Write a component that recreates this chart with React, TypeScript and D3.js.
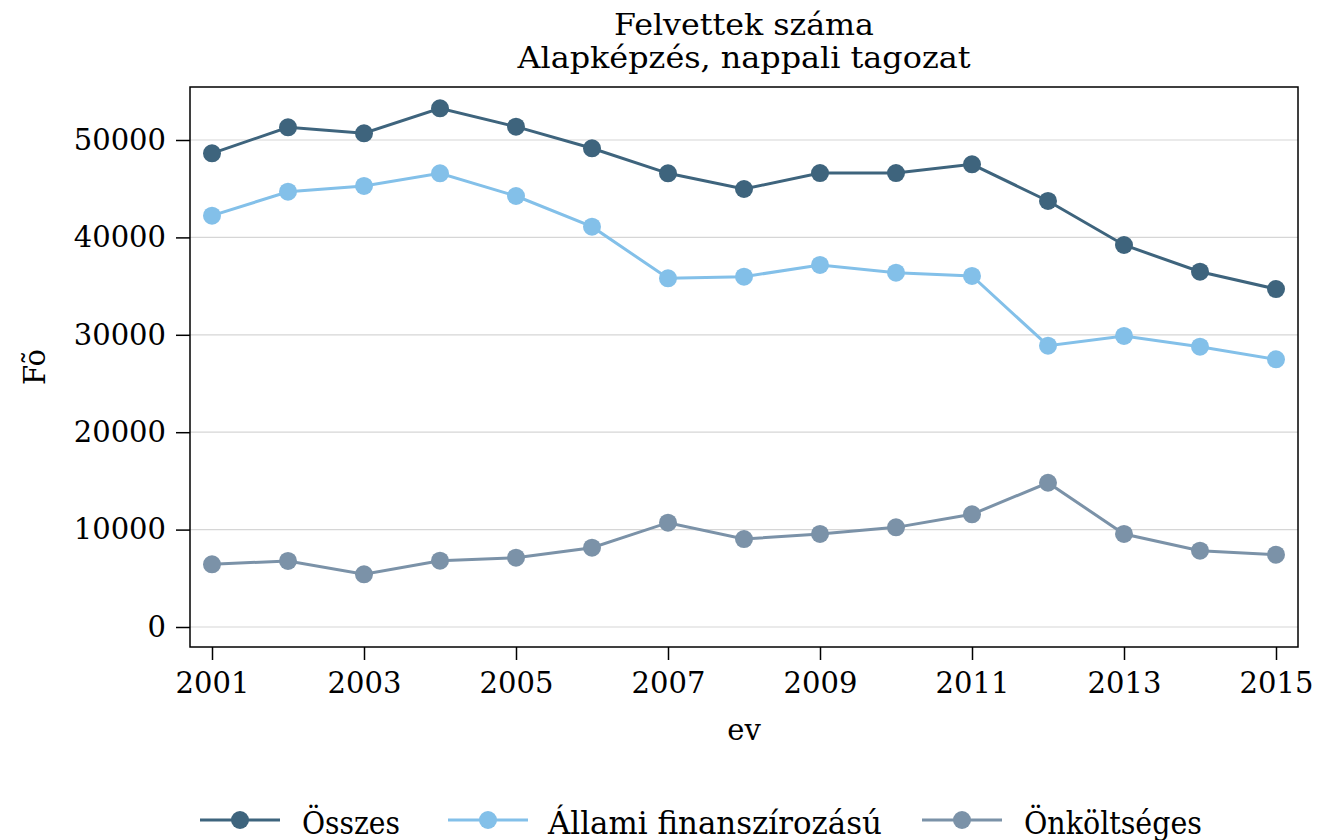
import React, { useEffect, useRef } from "react";
import * as d3 from "d3";

// data
const years = [2001, 2002, 2003, 2004, 2005, 2006, 2007, 2008, 2009, 2010, 2011, 2012, 2013, 2014, 2015];
const osszes = [48630, 51300, 50690, 53250, 51370, 49150, 46580, 44970, 46610, 46610, 47500, 43740, 39220, 36480, 34700];
const allami = [42230, 44690, 45280, 46580, 44250, 41100, 35800, 35970, 37170, 36380, 36040, 28880, 29880, 28780, 27480];
const onkoltseges = [6440, 6780, 5410, 6810, 7120, 8140, 10710, 9030, 9550, 10230, 11570, 14810, 9550, 7830, 7420];
const yTicks = [0, 10000, 20000, 30000, 40000, 50000];
const xTicks = [2001, 2003, 2005, 2007, 2009, 2011, 2013, 2015];
const seriesNames = ["Összes", "Állami finanszírozású", "Önköltséges"];
const seriesColors = ["#3e647d", "#83c0e9", "#7b92a8"];

const W = 1318;
const H = 840;
const SERIF = "'DejaVu Serif', serif";

export default function App() {
  const svgRef = useRef<SVGSVGElement>(null);

  useEffect(() => {
    if (!svgRef.current) return;
    const svg = d3.select(svgRef.current);
    svg.selectAll("*").remove();

    // plot region frame
    const frame = { left: 190, right: 1298, top: 87, bottom: 647 };

    const x = d3.scaleLinear().domain([2001, 2015]).range([212, 1276]);
    const y = d3.scaleLinear().domain([0, 50000]).range([627, 140]);

    svg.append("rect").attr("width", W).attr("height", H).attr("fill", "#fff");

    // gridlines
    svg.append("g")
      .selectAll("line")
      .data(yTicks)
      .join("line")
      .attr("x1", frame.left)
      .attr("x2", frame.right)
      .attr("y1", d => y(d))
      .attr("y2", d => y(d))
      .attr("stroke", "#d6d6d6")
      .attr("stroke-width", 1.2);

    // frame
    svg.append("rect")
      .attr("x", frame.left)
      .attr("y", frame.top)
      .attr("width", frame.right - frame.left)
      .attr("height", frame.bottom - frame.top)
      .attr("fill", "none")
      .attr("stroke", "#000")
      .attr("stroke-width", 1.5);

    // y axis
    const yAxis = svg.append("g")
      .attr("transform", `translate(${frame.left},0)`)
      .call(d3.axisLeft(y).tickValues(yTicks).tickSize(14).tickPadding(10).tickFormat(d3.format("d")));
    yAxis.select(".domain").remove();
    yAxis.selectAll("line").attr("stroke", "#000").attr("stroke-width", 1.5);
    yAxis.selectAll("text")
      .attr("font-family", SERIF)
      .attr("font-size", 29)
      .attr("fill", "#000");

    // x axis
    const xAxis = svg.append("g")
      .attr("transform", `translate(0,${frame.bottom})`)
      .call(d3.axisBottom(x).tickValues(xTicks).tickSize(13).tickPadding(12).tickFormat(d3.format("d")));
    xAxis.select(".domain").remove();
    xAxis.selectAll("line").attr("stroke", "#000").attr("stroke-width", 1.5);
    xAxis.selectAll("text")
      .attr("font-family", SERIF)
      .attr("font-size", 29)
      .attr("fill", "#000");

    // series
    const allSeries = [osszes, allami, onkoltseges];
    const line = d3.line<number>()
      .x((_, i) => x(years[i]))
      .y(d => y(d));

    allSeries.forEach((vals, si) => {
      svg.append("path")
        .datum(vals)
        .attr("fill", "none")
        .attr("stroke", seriesColors[si])
        .attr("stroke-width", 3)
        .attr("d", line);
      svg.append("g")
        .selectAll("circle")
        .data(vals)
        .join("circle")
        .attr("cx", (_, i) => x(years[i]))
        .attr("cy", d => y(d))
        .attr("r", 9)
        .attr("fill", seriesColors[si]);
    });

    // titles
    const titleLines = ["Felvettek száma", "Alapképzés, nappali tagozat"];
    const titleW = [260, 453];
    titleLines.forEach((t, i) => {
      svg.append("text")
        .attr("x", 744)
        .attr("y", 35 + i * 33)
        .attr("text-anchor", "middle")
        .attr("font-family", SERIF)
        .attr("font-size", 30)
        .attr("textLength", titleW[i])
        .attr("lengthAdjust", "spacingAndGlyphs")
        .text(t);
    });

    svg.append("text")
      .attr("x", 744)
      .attr("y", 740)
      .attr("text-anchor", "middle")
      .attr("font-family", SERIF)
      .attr("font-size", 29)
      .text("ev");

    svg.append("text")
      .attr("transform", "translate(45,367) rotate(-90)")
      .attr("text-anchor", "middle")
      .attr("font-family", SERIF)
      .attr("font-size", 29)
      .text("Fõ");

    // legend
    const legendLineX = [200, 448, 922];
    const legendTextX = [302, 548, 1024];
    const legendTextW = [98, 334, 178];
    const ly = 820;
    seriesNames.forEach((name, i) => {
      const g = svg.append("g");
      g.append("line")
        .attr("x1", legendLineX[i])
        .attr("x2", legendLineX[i] + 80)
        .attr("y1", ly)
        .attr("y2", ly)
        .attr("stroke", seriesColors[i])
        .attr("stroke-width", 3);
      g.append("circle")
        .attr("cx", legendLineX[i] + 40)
        .attr("cy", ly)
        .attr("r", 9)
        .attr("fill", seriesColors[i]);
      g.append("text")
        .attr("x", legendTextX[i])
        .attr("y", ly + 14)
        .attr("font-family", SERIF)
        .attr("font-size", 31)
        .attr("textLength", legendTextW[i])
        .attr("lengthAdjust", "spacingAndGlyphs")
        .text(name);
    });
  }, []);

  return (
    <div style={{ position: "absolute", left: 0, top: 0 }}>
      <svg ref={svgRef} width={W} height={H} style={{ display: "block" }} />
    </div>
  );
}
